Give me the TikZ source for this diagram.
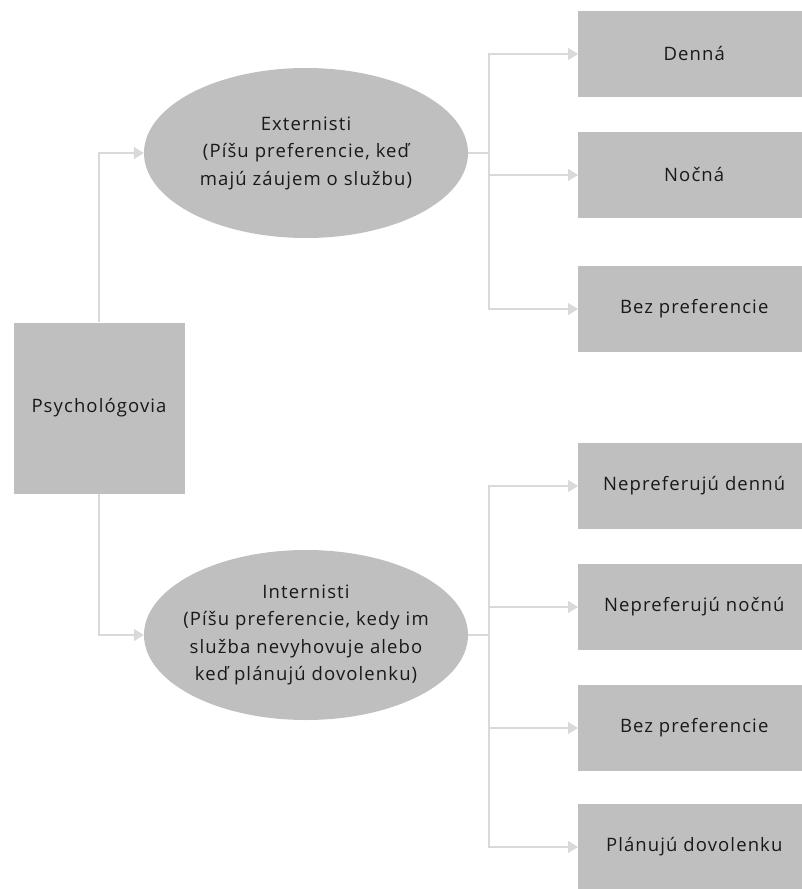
\documentclass[tikz,border=0pt]{standalone}
\usepackage{fontspec}
\setmainfont[LetterSpace=6]{Open Sans}
\usetikzlibrary{shapes.geometric,arrows.meta}

\definecolor{boxgray}{RGB}{191,191,191}
\definecolor{linegray}{RGB}{217,217,217}
\definecolor{textgray}{RGB}{25,25,25}

\tikzstyle{leaf} = [rectangle, fill=boxgray, text=textgray, minimum width=232pt, minimum height=86pt, anchor=west]
\tikzstyle{root} = [rectangle, fill=boxgray, text=textgray, minimum width=171pt, minimum height=171pt]
\tikzstyle{group} = [ellipse, fill=boxgray, text=textgray, minimum width=324pt, minimum height=170pt, inner sep=-30pt, align=center]
\tikzstyle{link} = [draw=linegray, line width=1.5pt, -{Triangle[length=10pt,width=12pt]}]

\begin{document}
\begin{tikzpicture}[x=1pt,y=-1pt,font=\fontsize{18.5}{27.5}\selectfont]
\clip (0,0) rectangle (802,889);
\node [root] (psych) at (99,408) {Psychológovia};
\node [group] (ext) at (306,153) {Externisti\\(Píšu preferencie, keď\\majú záujem o službu)};
\node [group] (int) at (306,635) {Internisti\\(Píšu preferencie, kedy im\\služba nevyhovuje alebo\\keď plánujú dovolenku)};
% externisti
\node [leaf] (denna) at (578,54) {Denná};
\node [leaf] (nocna) at (578,175) {Nočná};
\node [leaf] (bez1) at (578,309) {Bez preferencie};
% internisti
\node [leaf] (nedenna) at (578,486) {Nepreferujú dennú};
\node [leaf] (nenocna) at (578,607) {Nepreferujú nočnú};
\node [leaf] (bez2) at (578,728) {Bez preferencie};
\node [leaf] (dovolenka) at (578,847) {Plánujú dovolenku};

\coordinate (extfork) at (489,153);
\coordinate (intfork) at (489,635);

\draw [link] (psych.north) |- (ext.west);
\draw [link] (psych.south) |- (int.west);
\foreach \n in {denna,nocna,bez1}
	\draw [link] (ext.east) -- (extfork) |- (\n.west);
\foreach \n in {nedenna,nenocna,bez2,dovolenka}
	\draw [link] (int.east) -- (intfork) |- (\n.west);
\end{tikzpicture}
\end{document}
